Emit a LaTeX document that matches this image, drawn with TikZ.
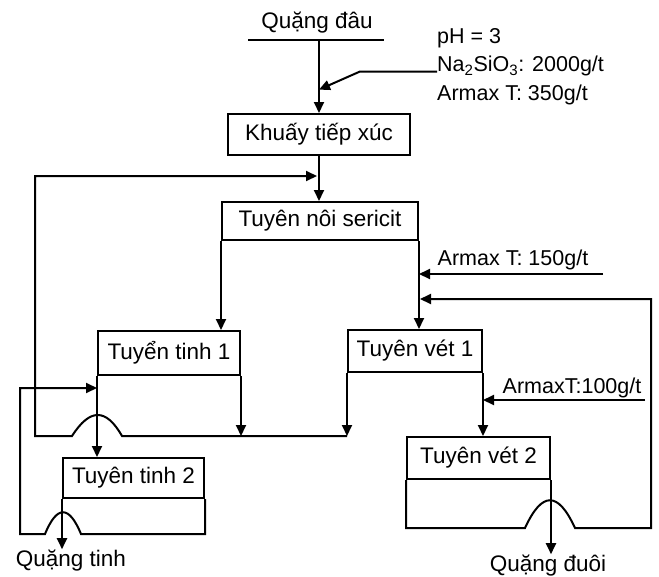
\documentclass[tikz,border=0pt]{standalone}
\usepackage{fontspec}
\setmainfont{Liberation Sans}
\usetikzlibrary{arrows.meta, positioning, calc}

\begin{document}
\begin{tikzpicture}[
    x=1pt, y=-1pt,
    every node/.style={font=\fontsize{22.5}{26}\selectfont, inner sep=0pt},
    stage/.style={rectangle, draw=black, line width=2pt, align=center},
    flow/.style={draw=black, line width=2pt},
    feedarrow/.style={draw=black, line width=2pt, -{Triangle[length=11pt, width=10pt]}},
    note/.style={font=\fontsize{21.5}{28.5}\selectfont, align=left}
]
\useasboundingbox (0,0) rectangle (659,576);

% Feed and conditioning
\node[anchor=base] (feed) at (317, 28) {Quặng đâu};
\coordinate (feedl) at (248, 40);
\coordinate (feedr) at (384, 40);
\coordinate (feedo) at (319, 40);
\node[stage, minimum width=182pt, minimum height=41pt] (mix) at (319, 134.5) {Khuấy tiếp xúc};
\node[note, anchor=west] (reag) at (437, 66.5) {pH = 3\\Na\textsubscript{2}SiO\textsubscript{3}: 2000g/t\\Armax T: 350g/t};

% Flotation stages
\node[stage, minimum width=196pt, minimum height=38pt] (sericit) at (320, 221) {Tuyên nôi sericit};
\node[stage, minimum width=142pt, minimum height=44pt] (tinh1) at (169, 353) {Tuyển tinh 1};
\node[stage, minimum width=134pt, minimum height=42pt] (vet1) at (415, 351) {Tuyên vét 1};
\node[stage, minimum width=141pt, minimum height=40pt] (tinh2) at (133.5, 478) {Tuyên tinh 2};
\node[stage, minimum width=143pt, minimum height=42pt] (vet2) at (478.5, 458) {Tuyên vét 2};

% Reagent labels and products
\node[note] (arm150) at (513, 260) {Armax T: 150g/t};
\node[note] (arm100) at (572, 388) {ArmaxT:100g/t};
\node[anchor=base] (conc) at (71, 566) {Quặng tinh};
\node[anchor=base] (tail) at (548, 571) {Quặng đuôi};

% Return points
\coordinate (in150) at (603, 274);
\coordinate (in100) at (645, 400);
\coordinate (ret1) at (35, 436);
\coordinate (join1) at (317, 176);
\coordinate (ret2) at (20, 534);
\coordinate (ret3) at (651, 528);
\coordinate (join3) at (420, 299);

% Feed line
\draw[flow] (feedl) -- (feedr);
\draw[feedarrow] (feedo) -- (mix.north);
\draw[feedarrow] ([yshift=-5pt]reag.west) -- ++(-77,0) -- ($(feedo)!0.68!(mix.north)$);
\draw[feedarrow] (mix.south) -- (mix.south |- sericit.north);

% Sericit flotation outputs
\draw[feedarrow] (sericit.south west) -- (sericit.south west |- tinh1.north);
\draw[feedarrow] (sericit.south east) -- (sericit.south east |- vet1.north);
\draw[feedarrow] (in150) -- (in150 -| sericit.south east);

% Cleaner 1 tailings and scavenger 1 froth back to sericit
\draw[feedarrow] (tinh1.south east) -- (tinh1.south east |- ret1);
\draw[feedarrow] (vet1.south west) -- (vet1.south west |- ret1);
\draw[feedarrow] (vet1.south west |- ret1) -- (122, 436) .. controls (106, 408) and (90, 408) .. (72, 436) -- (ret1) |- (join1);

% Cleaner 2
\draw[feedarrow] (tinh1.south west) -- (tinh1.south west |- tinh2.north);
\draw[feedarrow] (tinh2.south west) -- (tinh2.south west |- conc.north);
\draw[feedarrow] (tinh2.south east) -- (tinh2.south east |- ret2) -- (81, 534) .. controls (69, 505) and (57, 505) .. (45, 534) -- (ret2) |- (tinh1.west |- 0, 388);

% Scavenger 2
\draw[feedarrow] (vet1.south east) -- (vet1.south east |- vet2.north);
\draw[feedarrow] (in100) -- (in100 -| vet1.south east);
\draw[feedarrow] (vet2.south east) -- (vet2.south east |- tail.north);
\draw[feedarrow] (vet2.south west) -- (vet2.south west |- ret3) -- (525, 528) .. controls (542, 491) and (558, 491) .. (575, 528) -- (ret3) |- (join3);

\end{tikzpicture}
\end{document}
